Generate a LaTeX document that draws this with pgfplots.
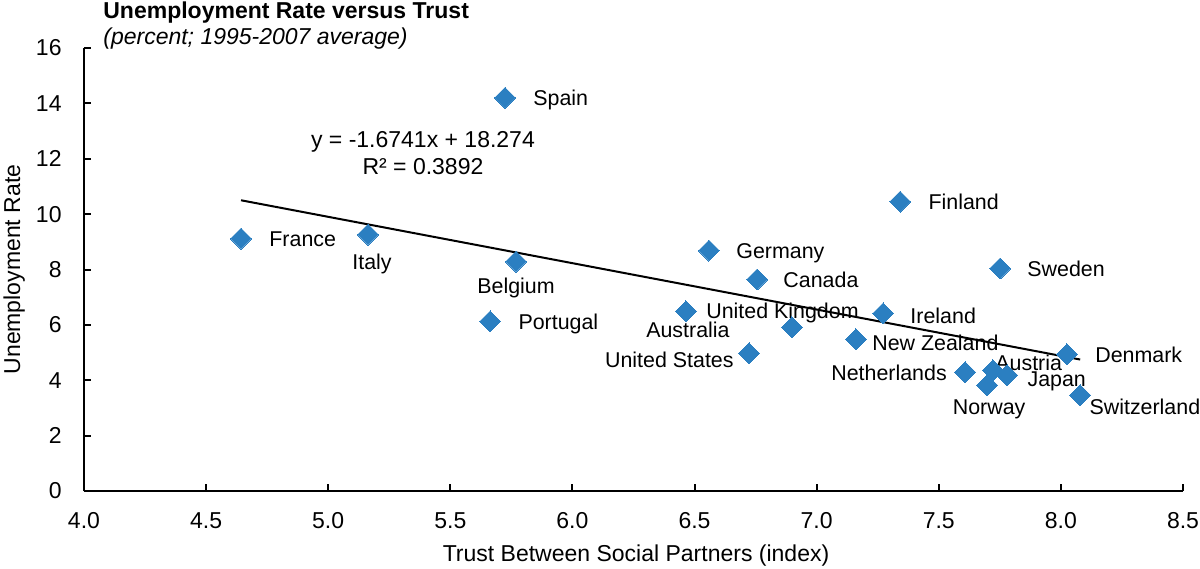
\documentclass[border=0pt]{standalone}
\usepackage{pgfplots}
\pgfplotsset{compat=1.18}
\usepackage{fontspec}
\setmainfont{Liberation Sans}
\definecolor{ptblue}{RGB}{43,127,193}
\newcommand\fs{\fontsize{11.5}{13.8}\selectfont}
\newcommand\fl{\fontsize{10.7}{12.8}\selectfont}
\begin{document}
\begin{tikzpicture}
\begin{axis}[
  scale only axis, width=549.5pt, height=221.5pt,
  xmin=4, xmax=8.5, ymin=0, ymax=16,
  axis lines=left, axis line style={-, line width=1pt},
  clip=false,
  tick align=inside, major tick length=3.5pt,
  tick style={line width=1pt, black},
  xtick={4,4.5,5,5.5,6,6.5,7,7.5,8,8.5},
  xticklabels={4.0,4.5,5.0,5.5,6.0,6.5,7.0,7.5,8.0,8.5},
  ytick={0,2,4,6,8,10,12,14,16},
  yticklabels={0,2,4,6,8,10,12,14,16},
  xticklabel style={font=\fs, inner sep=0pt, anchor=north, yshift=-10.5pt},
  yticklabel style={font=\fs, inner sep=0pt, anchor=east, xshift=-11pt},
]
\addplot[only marks, color=ptblue, mark=square*, mark size=3.7pt,
  mark options={rotate=45, fill=ptblue, draw=ptblue, line width=0pt}] coordinates {
  (4.643,9.117) (5.163,9.261) (5.724,14.198) (5.769,8.288) (5.663,6.126)
  (6.559,8.685) (6.756,7.640) (6.465,6.486) (6.899,5.910) (6.723,4.973)
  (7.342,10.450) (7.751,8.036) (7.272,6.414) (7.161,5.477) (7.608,4.288)
  (7.698,3.820) (7.722,4.360) (7.780,4.180) (8.025,4.937) (8.079,3.459)
};
\addplot[black, line width=1pt] coordinates {(4.643,10.501) (8.079,4.749)};
\begin{scope}[every node/.style={font=\fl, inner sep=0pt}]
\node[anchor=mid west, xshift=14pt, yshift=-1.3pt] at (axis cs:4.643,9.117) {France};
\node[anchor=center, xshift=2pt, yshift=-14.5pt] at (axis cs:5.163,9.261) {Italy};
\node[anchor=mid west, xshift=14pt, yshift=-1.3pt] at (axis cs:5.724,14.198) {Spain};
\node[anchor=center, yshift=-13pt] at (axis cs:5.769,8.288) {Belgium};
\node[anchor=mid west, xshift=14pt, yshift=-1.3pt] at (axis cs:5.663,6.126) {Portugal};
\node[anchor=mid west, xshift=13.5pt, yshift=-1.3pt] at (axis cs:6.559,8.685) {Germany};
\node[anchor=mid west, xshift=13pt, yshift=-1.3pt] at (axis cs:6.756,7.640) {Canada};
\node[anchor=mid west, xshift=10pt, yshift=-1pt] at (axis cs:6.465,6.486) {United Kingdom};
\node[anchor=mid east, xshift=-31pt, yshift=-2.5pt] at (axis cs:6.899,5.910) {Australia};
\node[anchor=mid east, xshift=-7.5pt, yshift=-4.5pt] at (axis cs:6.723,4.973) {United States};
\node[anchor=mid west, xshift=14pt, yshift=-1.3pt] at (axis cs:7.342,10.450) {Finland};
\node[anchor=mid west, xshift=13.5pt, yshift=-1.3pt] at (axis cs:7.751,8.036) {Sweden};
\node[anchor=mid west, xshift=13.5pt, yshift=-2.3pt] at (axis cs:7.272,6.414) {Ireland};
\node[anchor=mid west, xshift=8pt, yshift=-3pt] at (axis cs:7.161,5.477) {New Zealand};
\node[anchor=mid east, xshift=-9pt, yshift=-1.3pt] at (axis cs:7.608,4.288) {Netherlands};
\node[anchor=center, xshift=1pt, yshift=-12pt] at (axis cs:7.698,3.820) {Norway};
\node[anchor=mid west, xshift=1pt, yshift=2.5pt] at (axis cs:7.722,4.360) {Austria};
\node[anchor=mid west, xshift=10pt, yshift=-3pt] at (axis cs:7.780,4.180) {Japan};
\node[anchor=mid west, xshift=14pt, yshift=-1.3pt] at (axis cs:8.025,4.937) {Denmark};
\node[anchor=mid west, xshift=4.5pt, yshift=-7pt] at (axis cs:8.079,3.459) {Switzerland};
\end{scope}
\node[font=\fs, align=center, inner sep=0pt, anchor=center] at (axis cs:5.388,12.2)
  {y = -1.6741x + 18.274\\R² = 0.3892};
\node[font=\fs\bfseries, anchor=base west, inner sep=0pt] at (rel axis cs:0.0173,1.0655) {Unemployment Rate versus Trust};
\node[font=\fs\itshape, anchor=base west, inner sep=0pt] at (rel axis cs:0.0173,1.0068) {(percent; 1995-2007 average)};
\node[font=\fs, anchor=base, inner sep=0pt] at (rel axis cs:0.5023,-0.158) {Trust Between Social Partners (index)};
\node[font=\fs, anchor=base, rotate=90, inner sep=0pt] at (rel axis cs:-0.0582,0.5) {Unemployment Rate};
\coordinate (BL) at (rel axis cs:-0.0764,-0.1738);
\coordinate (TR) at (rel axis cs:1.01547,1.1084);
\end{axis}
\pgfresetboundingbox
\path[use as bounding box] (BL) rectangle (TR);
\end{tikzpicture}
\end{document}
